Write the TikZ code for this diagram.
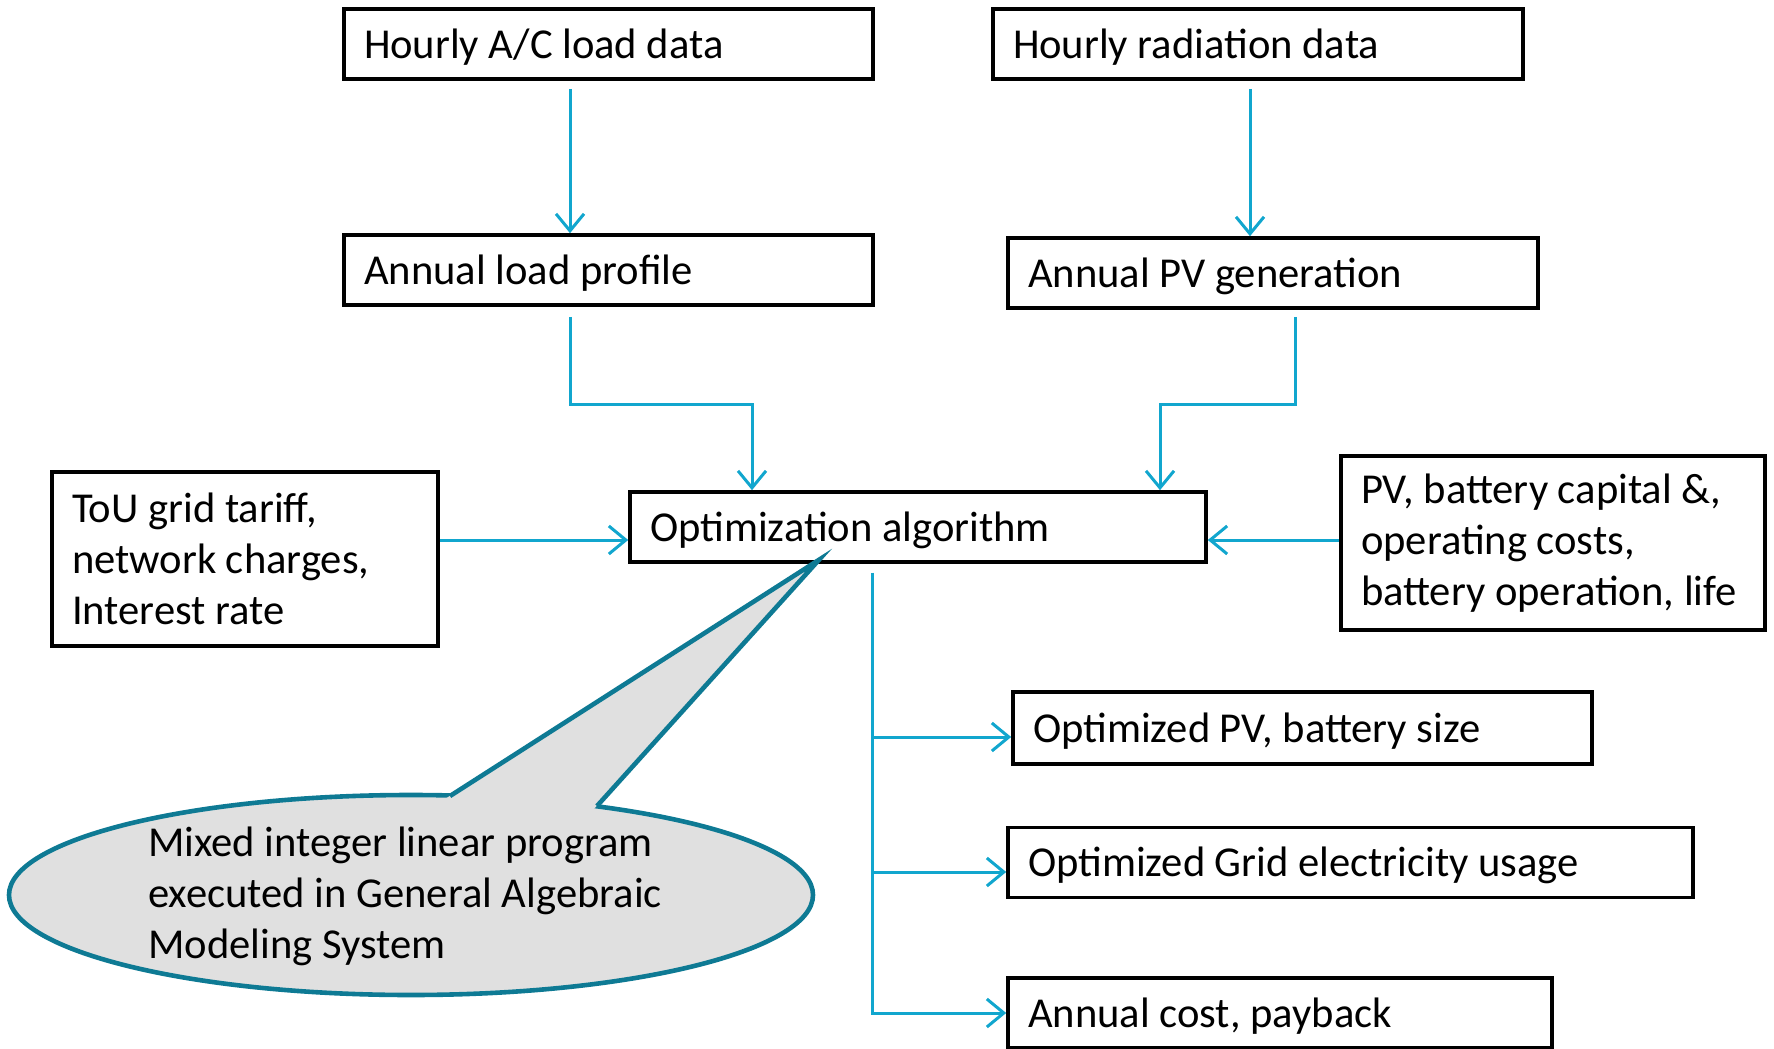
\documentclass[tikz,border=0pt]{standalone}
\usepackage{fontspec}
\setmainfont{Carlito}
\usepackage{tikz}
\usetikzlibrary{arrows.meta,positioning,calc}
\definecolor{flowblue}{RGB}{17,166,206}
\definecolor{calloutedge}{RGB}{14,122,148}
\definecolor{calloutfill}{RGB}{224,224,224}
\tikzset{
    databox/.style={
        rectangle, draw=black, line width=1.8pt, fill=white,
        inner xsep=10pt, inner ysep=0pt, minimum height=35pt,
        align=flush left, font=\fontsize{21.3}{25.5}\selectfont
    },
    oneline/.style={text height=15pt, text depth=0.6pt},
    note/.style={
        align=left, inner sep=0pt,
        font=\fontsize{21.3}{25.5}\selectfont
    },
    flow/.style={-{Straight Barb[length=8.5pt,width=14pt]},draw=flowblue,line width=1.5pt},
    bubble/.style={draw=calloutedge,fill=calloutfill,line width=2.3pt}
}

\begin{document}
\begin{tikzpicture}[x=0.5pt,y=-0.5pt]
\useasboundingbox (0,0) rectangle (1774,1049);

% ---- Row 1 data (y=44) ----
\node[databox, oneline, text width=244.5pt] (hac)  at (608.5,44) {Hourly A/C load data};
\node[databox, oneline, text width=245pt]   (hrad) at (1258,44)  {Hourly radiation data};

% ---- Row 2 profiles ----
\node[databox, oneline, text width=244.5pt] (aload) at (608.5,270) {Annual load profile};
\node[databox, oneline, text width=245pt]   (apv)   at (1273,273)  {Annual PV generation};

% ---- Row 3 optimizer and side inputs ----
\node[databox, oneline, text width=268pt] (opt) at (918,527) {Optimization algorithm};
\node[databox, text width=173pt, minimum height=87pt] (tou) at (245,559)
    {ToU grid tariff,\\network charges,\\Interest rate};
\node[databox, text width=192pt, minimum height=87pt] (cap) at (1553,543)
    {PV, battery capital \&,\\operating costs,\\battery operation, life};

% ---- Outputs ----
\node[databox, oneline, text width=269.5pt, minimum height=36pt] (osize) at (1302.5,728)  {Optimized PV, battery size};
\node[databox, oneline, text width=322.5pt] (ogrid) at (1350.5,862.5) {Optimized Grid electricity usage};
\node[databox, oneline, text width=252pt]   (acost) at (1280,1013)    {Annual cost, payback};

% Data -> profiles
\draw[flow] ([xshift=-19.25pt,yshift=-4pt]hac.south) -- ([xshift=-19.25pt]aload.north);
\draw[flow] ([xshift=-4pt,yshift=-4pt]hrad.south) -- ([xshift=-11.5pt]apv.north);

% Profiles -> optimizer (elbows)
\draw[flow] ([xshift=-19.25pt,yshift=-5pt]aload.south) -- ++(0,88) -| ([xshift=-83pt]opt.north);
\draw[flow] ([xshift=11pt,yshift=-3.5pt]apv.south) -- ++(0,88) -| ([xshift=121pt]opt.north);

% Side inputs
\draw[flow] ([yshift=9.5pt]tou.east) -- ([yshift=9.5pt]tou.east -| opt.west);
\draw[flow] ([yshift=1.5pt]cap.west) -- ([yshift=1.5pt]cap.west -| opt.east);

% Optimizer -> outputs
\coordinate (split) at ([xshift=-23pt,yshift=-4.5pt]opt.south);
\draw[flow] (split) |- ([yshift=-4.5pt]osize.west);
\draw[flow] (split) |- ([yshift=-4.75pt]ogrid.west);
\draw[flow] (split) |- (acost.west);

% Callout bubble
\coordinate (bubble) at (411,895);
\coordinate (tip) at ([xshift=-49.5pt,yshift=2pt]opt.south);
\coordinate (baseL) at (450,796);
\coordinate (baseR) at (597,806);
\draw[bubble] (bubble) ellipse [x radius=201pt, y radius=50pt];
\fill[calloutfill] (445,799) -- (tip) -- (593,810) -- cycle;
\draw[calloutedge, line width=2.3pt] (baseL) -- (tip) -- (baseR);
\node[note] (gams) at (405,896)
    {Mixed integer linear program\\executed in General Algebraic\\Modeling System};

\end{tikzpicture}
\end{document}
